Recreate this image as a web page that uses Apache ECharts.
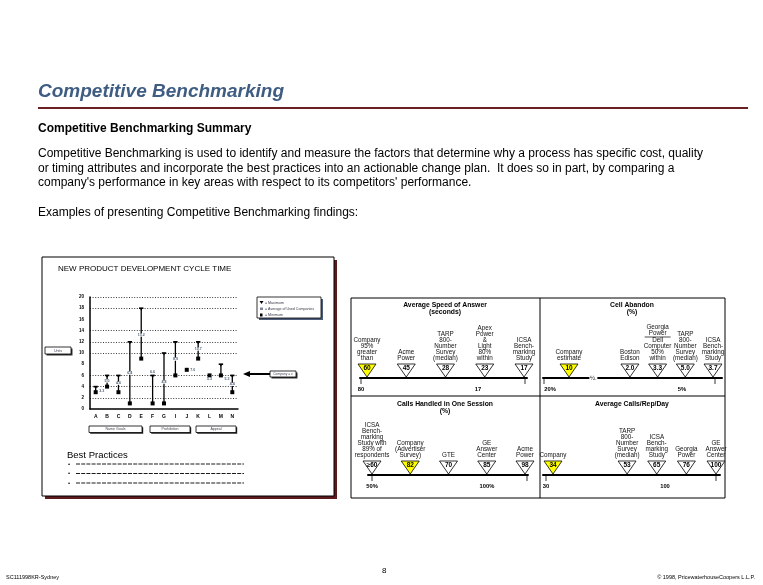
<!DOCTYPE html>
<html>
<head>
<meta charset="utf-8">
<script src="https://cdn.jsdelivr.net/npm/echarts@6/dist/echarts.min.js"></script>
<style>
  html, body { margin: 0; padding: 0; background: #fff; }
  #main { width: 763px; height: 585px; }
</style>
</head>
<body>
<div id="main"></div>
<script>
// --- left chart: new product development cycle time ---
var cycleCats = ['A', 'B', 'C', 'D', 'E', 'F', 'G', 'I', 'J', 'K', 'L', 'M', 'N'];
var cycleMin = [3, 4, 3, 1, 9, 1, 1, 6, 7, 9, 6, 6, 3];
var cycleMax = [4, 6, 6, 12, 18, 6, 10, 12, 7, 12, 6, 8, 6];
var cycleAvg = [3.3, 5, 4.6, 6.4, 13.2, 6.6, 4.8, 8.9, 7, 10.7, 5.3, 5.3, 4.4];
var gridLevels = [2, 4, 6, 10, 12, 14, 18, 20];
var groupNames = ['Name Goals', 'Prohibition', 'Appeal'];
var legendTexts = ['= Maximum', '= Average of Used Companies', '= Minimum'];

// --- right panel: four benchmark scales ---
var speedNames = ['Company\n95%\ngreater\nthan', 'Acme\nPower', 'TARP\n800-\nNumber\nSurvey\n(median)', 'Apex\nPower\n&\nLight\n80%\nwithin', 'ICSA\nBench-\nmarking\nStudy'];
var speedValues = ['60', '45', '28', '23', '17'];
var speedTicks = ['80', '17'];

var abandonNames = ['Company\nestimate', 'Boston\nEdison', 'Georgia\nPower\n__\nDell\nComputer\n50%\nwithin', 'TARP\n800-\nNumber\nSurvey\n(median)', 'ICSA\nBench-\nmarking\nStudy'];
var abandonValues = ['10', '2.0', '3.3', '5.0', '3.7'];
var abandonTicks = ['20%', '5%'];

var sessionNames = ['ICSA\nBench-\nmarking\nStudy with\n89% of\nrespondents', 'Company\n(Advertiser\nSurvey)', 'GTE', 'GE\nAnswer\nCenter', 'Acme\nPower'];
var sessionValues = ['\u226560', '82', '70', '85', '98'];
var sessionTicks = ['50%', '100%'];

var callsNames = ['Company', 'TARP\n800-\nNumber\nSurvey\n(median)', 'ICSA\nBench-\nmarking\nStudy', 'Georgia\nPower', 'GE\nAnswer\nCenter'];
var callsValues = ['34', '53', '65', '76', '100'];
var callsTicks = ['30', '100'];

var FONT = 'Arial, "Liberation Sans", sans-serif';

// layout of the four scales (gap = extra spacing after the company marker)
var panels = [
  { title: 'Average Speed of Answer', sub: '(seconds)', names: speedNames, values: speedValues, ticks: speedTicks,
    company: 0, gap: 0, lineLeft: 360, lineRight: 527, first: 367, last: 524, lineY: 378, cx: 445, ty: 305,
    tickX: [361, 478], tickMarks: [361, 525] },
  { title: 'Cell Abandon', sub: '(%)', names: abandonNames, values: abandonValues, ticks: abandonTicks,
    company: 0, gap: 1.2, lineLeft: 543, lineRight: 722, first: 569, last: 713, lineY: 378, cx: 632, ty: 305,
    tickX: [550, 682], tickMarks: [544, 715], brk: true },
  { title: 'Calls Handled in One Session', sub: '(%)', names: sessionNames, values: sessionValues, ticks: sessionTicks,
    company: 1, gap: 0, lineLeft: 368, lineRight: 528, first: 372, last: 525, lineY: 475, cx: 445, ty: 404,
    tickX: [372, 487], tickMarks: [372, 527] },
  { title: 'Average Calls/Rep/Day', sub: '', names: callsNames, values: callsValues, ticks: callsTicks,
    company: 0, gap: 1.5, lineLeft: 543, lineRight: 720, first: 553, last: 716, lineY: 475, cx: 632, ty: 404,
    tickX: [546, 665], tickMarks: [546, 716] }
];

function zOf(o, d) { return o.z != null ? o.z : d; }
function txt(x, y, text, size, o) {
  o = o || {};
  return {
    type: 'text', x: x, y: y, z: zOf(o, 20), silent: true,
    style: {
      text: text, fill: o.fill || '#000',
      font: (o.style || 'normal') + ' ' + (o.weight || 'normal') + ' ' + size + 'px ' + FONT,
      textAlign: o.align || 'left', textVerticalAlign: o.va || 'middle',
      align: o.align || 'left', verticalAlign: o.va || 'middle'
    }
  };
}
function box(x, y, w, h, o) {
  o = o || {};
  return {
    type: 'rect', z: zOf(o, 5), silent: true,
    shape: { x: x, y: y, width: w, height: h },
    style: { fill: o.fill || '#fff', stroke: o.stroke || null, lineWidth: o.lw || 1 }
  };
}
function seg(x1, y1, x2, y2, o) {
  o = o || {};
  return {
    type: 'line', z: zOf(o, 6), silent: true,
    shape: { x1: x1, y1: y1, x2: x2, y2: y2 },
    style: { stroke: o.stroke || '#000', lineWidth: o.lw || 1, lineDash: o.dash || null }
  };
}

var graphics = [];
// header
graphics.push(txt(38, 92, 'Competitive Benchmarking', 19, { style: 'italic', weight: 'bold', fill: '#3f5c82' }));
graphics.push(seg(38, 108, 748, 108, { stroke: '#6a1f22', lw: 2 }));
graphics.push(txt(38, 129, 'Competitive Benchmarking Summary', 12, { weight: 'bold' }));
graphics.push(txt(38, 154, 'Competitive Benchmarking is used to identify and measure the factors that determine why a process has specific cost, quality', 12));
graphics.push(txt(38, 169, 'or timing attributes and incorporate the best practices into an actionable change plan.  It does so in part, by comparing a', 12));
graphics.push(txt(38, 183, "company's performance in key areas with respect to its competitors' performance.", 12));
graphics.push(txt(38, 213, 'Examples of presenting Competitive Benchmarking findings:', 12));

// left panel frame with dark red shadow
graphics.push(box(45, 260, 292, 239, { fill: '#5c1a1c', z: 0 }));
graphics.push(box(42, 257, 292, 239, { fill: '#fff', stroke: '#000', lw: 1, z: 1 }));
graphics.push(txt(58, 269, 'NEW PRODUCT DEVELOPMENT CYCLE TIME', 8));
// units box
graphics.push(box(46.5, 348.5, 26, 7, { fill: '#333', z: 8 }));
graphics.push(box(45, 347, 26, 7, { fill: '#fff', stroke: '#000', lw: 0.8, z: 9 }));
graphics.push(txt(58, 350.5, 'Units', 3.6, { align: 'center', fill: '#445' }));
// legend box
graphics.push(box(259, 299, 64, 21, { fill: '#4d5d7c', z: 8 }));
graphics.push(box(257, 297, 64, 21, { fill: '#fff', stroke: '#000', lw: 0.8, z: 9 }));
graphics.push({ type: 'polygon', z: 20, silent: true, shape: { points: [[259.5, 301], [263.5, 301], [261.5, 304]] }, style: { fill: '#000' } });
graphics.push(box(260, 307.5, 3, 2.5, { fill: '#7a889a', z: 20 }));
graphics.push(box(260, 313.5, 2.5, 3, { fill: '#000', z: 20 }));
legendTexts.forEach(function (t, k) {
  graphics.push(txt(265, 302.5 + k * 6, t, 3.6, { fill: '#334' }));
});
// company = x pointer
graphics.push(seg(248, 374, 270, 374, { lw: 2 }));
graphics.push({ type: 'polygon', z: 20, silent: true, shape: { points: [[243, 374], [250, 371], [250, 377]] }, style: { fill: '#000' } });
graphics.push(box(271.5, 372.5, 26, 6, { fill: '#333', z: 8 }));
graphics.push(box(270, 371, 26, 6, { fill: '#fff', stroke: '#000', lw: 0.8, z: 9 }));
graphics.push(txt(283, 374, 'Company = x', 3.3, { align: 'center', fill: '#445' }));
// group boxes under the x axis
[[89, 53], [150, 40], [196, 40]].forEach(function (g, k) {
  graphics.push(box(g[0] + 1.2, 427.2, g[1], 6.5, { fill: '#222', z: 8 }));
  graphics.push(box(g[0], 426, g[1], 6.5, { fill: '#fff', stroke: '#000', lw: 0.8, z: 9 }));
  graphics.push(txt(g[0] + g[1] / 2, 429.3, groupNames[k], 3.6, { align: 'center', fill: '#445' }));
});
// best practices
graphics.push(txt(67, 455, 'Best Practices', 9.5));
[464, 473.5, 483].forEach(function (y) {
  graphics.push(txt(68, y, '\u2022', 6));
  graphics.push(seg(76, y, 244, y, { lw: 0.9, dash: [4, 1.2] }));
});

// right panel frame
graphics.push(box(351, 298, 374, 200, { fill: '#fff', stroke: '#000', lw: 1, z: 1 }));
graphics.push(seg(540, 298, 540, 498, { lw: 1, z: 2 }));
graphics.push(seg(351, 396, 725, 396, { lw: 1, z: 2 }));
panels.forEach(function (p) {
  graphics.push(txt(p.cx, p.ty, p.title, 6.8, { align: 'center', weight: 'bold' }));
  if (p.sub) graphics.push(txt(p.cx, p.ty + 7, p.sub, 6.8, { align: 'center', weight: 'bold' }));
  p.ticks.forEach(function (t, k) {
    graphics.push(txt(p.tickX[k], p.lineY + 11, t, 5.8, { align: 'center', weight: 'bold' }));
  });
  p.tickMarks.forEach(function (x) {
    graphics.push(seg(x, p.lineY, x, p.lineY + 6, { lw: 0.8, z: 25 }));
  });
});

// footer
graphics.push(txt(6, 577, 'SC111998KR-Sydney', 5.5));
graphics.push(txt(382, 571, '8', 8));
graphics.push(txt(755, 577, '\u00a9 1998, PricewaterhouseCoopers L.L.P.', 5.5, { align: 'right' }));

// ---- series renderers ----
function renderRange(params, api) {
  var i = api.value(0), lo = api.value(1), hi = api.value(2), avg = api.value(3);
  var a = api.coord([i, lo]), b = api.coord([i, hi]), m = api.coord([i, avg]);
  var kids = [];
  if (hi > lo) {
    kids.push({ type: 'line', shape: { x1: a[0], y1: a[1], x2: b[0], y2: b[1] }, style: { stroke: '#000', lineWidth: 1.3 } });
    kids.push({ type: 'rect', shape: { x: b[0] - 2.2, y: b[1] - 0.8, width: 4.4, height: 1.6 }, style: { fill: '#000' } });
    kids.push({ type: 'polygon', shape: { points: [[b[0] - 1.4, b[1]], [b[0] + 1.4, b[1]], [b[0], b[1] + 2.6]] }, style: { fill: '#000' } });
  }
  kids.push({ type: 'rect', shape: { x: a[0] - 2, y: a[1] - 2, width: 4, height: 4 }, style: { fill: '#000' } });
  var lx = m[0];
  if (Math.abs(m[1] - a[1]) < 4 && !(hi === lo && avg !== lo)) lx = m[0] + 6;
  kids.push({ type: 'rect', shape: { x: lx - 3, y: m[1] - 1.6, width: 6, height: 3.2 }, style: { fill: '#fff' } });
  kids.push({ type: 'text', style: { text: avg.toFixed(1), x: lx, y: m[1], align: 'center', verticalAlign: 'middle',
    fontSize: 3.6, fontWeight: 'bold', fontFamily: FONT, fill: '#50617a' } });
  return { type: 'group', children: kids };
}

function markerRenderer(panel) {
  return function (params, api) {
    var i = params.dataIndex;
    var p = api.coord([api.value(0), 0]);
    var x = p[0], y = p[1] - 1;
    var w = 18, h = 13;
    var kids = [];
    if (panel.brk && i === 0) {
      var q = api.coord([0.4 * (1 + panel.gap), 0]);
      kids.push({ type: 'rect', shape: { x: q[0] - 4, y: q[1] - 3, width: 8, height: 6 }, style: { fill: '#fff' } });
      kids.push({ type: 'text', style: { text: '\u00bd.', x: q[0], y: q[1], align: 'center', verticalAlign: 'middle',
        fontSize: 6, fontFamily: FONT, fill: '#000' } });
    }
    kids.push({ type: 'polygon', shape: { points: [[x - w / 2, y - h], [x + w / 2, y - h], [x, y]] },
      style: { fill: i === panel.company ? '#ffff00' : '#fff', stroke: '#000', lineWidth: 0.8 } });
    kids.push({ type: 'text', style: { text: panel.values[i], x: x, y: y - h + 4.5, align: 'center', verticalAlign: 'middle',
      fontSize: 6.5, fontWeight: 'bold', fontFamily: FONT, fill: '#000' } });
    var lines = panel.names[i].split('\n');
    var ty = y - h - 2.5;
    for (var k = lines.length - 1; k >= 0; k--) {
      if (lines[k] === '__') {
        kids.push({ type: 'line', shape: { x1: x - 13, y1: ty - 0.5, x2: x + 13, y2: ty - 0.5 }, style: { stroke: '#000', lineWidth: 0.7 } });
        ty -= 1.5;
        continue;
      }
      kids.push({ type: 'text', style: { text: lines[k], x: x, y: ty, align: 'center', verticalAlign: 'bottom',
        fontSize: 6.3, fontFamily: FONT, fill: '#111' } });
      ty -= 6;
    }
    return { type: 'group', children: kids };
  };
}

// ---- build option ----
var grids = [{ left: 90, top: 297, width: 148, height: 112 }];
var xAxes = [{
  gridIndex: 0, type: 'category', data: cycleCats, z: 10,
  axisLine: { lineStyle: { color: '#000', width: 1.5 } },
  axisTick: { show: false },
  axisLabel: { fontSize: 5, fontWeight: 'bold', fontFamily: FONT, color: '#000', margin: 5 }
}];
var yAxes = [{
  gridIndex: 0, type: 'value', min: 0, max: 20, interval: 2, z: 10,
  axisLine: { show: true, lineStyle: { color: '#000', width: 1.5 } },
  axisTick: { show: false }, splitLine: { show: false },
  axisLabel: { fontSize: 4.5, fontWeight: 'bold', fontFamily: FONT, color: '#000', margin: 6 }
}];
var series = [{
  type: 'custom', xAxisIndex: 0, yAxisIndex: 0, z: 12,
  renderItem: renderRange,
  data: cycleCats.map(function (c, i) { return [i, cycleMin[i], cycleMax[i], cycleAvg[i]]; }),
  markLine: {
    silent: true, symbol: ['none', 'none'], label: { show: false },
    lineStyle: { type: [1, 1.6], color: '#222', width: 0.9 },
    data: gridLevels.map(function (v) { return { yAxis: v }; })
  }
}];

panels.forEach(function (p, k) {
  var n = p.values.length;
  var step = (p.last - p.first) / (n - 1 + p.gap);
  grids.push({ left: p.lineLeft, top: p.lineY - 40, width: p.lineRight - p.lineLeft, height: 40 });
  xAxes.push({
    gridIndex: k + 1, type: 'value', z: 10,
    min: -(p.first - p.lineLeft) / step, max: n - 1 + p.gap + (p.lineRight - p.last) / step,
    axisLine: { lineStyle: { color: '#000', width: 2 } },
    axisTick: { show: false }, axisLabel: { show: false }, splitLine: { show: false }
  });
  yAxes.push({ gridIndex: k + 1, type: 'value', min: 0, max: 1, show: false });
  series.push({
    type: 'custom', xAxisIndex: k + 1, yAxisIndex: k + 1, z: 12,
    renderItem: markerRenderer(p),
    data: p.values.map(function (v, i) { return [i + (i > 0 ? p.gap : 0), 0]; })
  });
});

var chart = echarts.init(document.getElementById('main'), null, { renderer: 'canvas' });
chart.setOption({
  backgroundColor: '#fff',
  animation: false,
  grid: grids,
  xAxis: xAxes,
  yAxis: yAxes,
  series: series,
  graphic: { elements: graphics }
});
</script>
</body>
</html>
